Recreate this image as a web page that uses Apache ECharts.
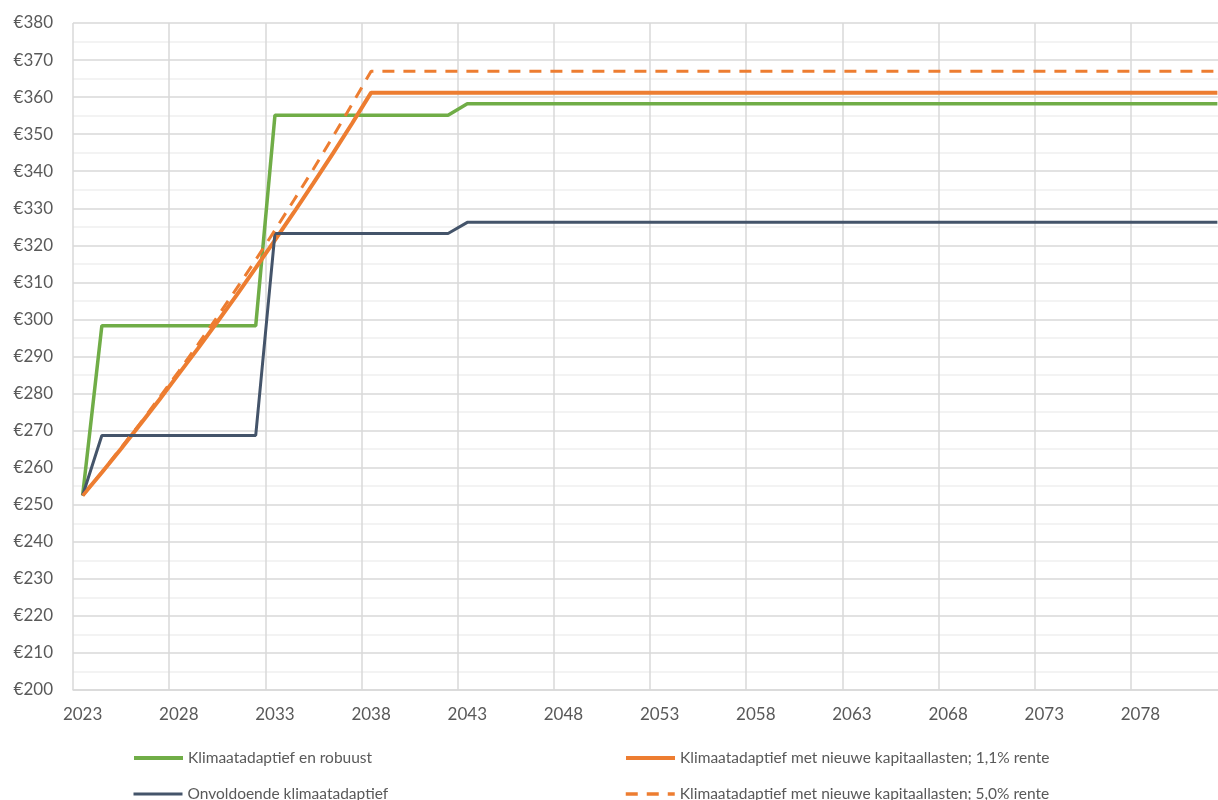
<!DOCTYPE html>
<html>

<head>
    <meta charset="utf-8" />
    <title>Klimaatadaptief</title>
    <script src="https://cdn.jsdelivr.net/npm/echarts@6/dist/echarts.min.js"></script>
    <style>
        body { margin: 0; background: #fff; overflow: hidden; }
        /* the plot runs slightly past the right edge of the window, like the original */
        #main { width: 1227px; height: 800px; }
    </style>
</head>

<body>
    <div id="main"></div>
    <script type="text/javascript">
        // years 2023 .. 2082
        var years = [];
        for (var y = 2023; y <= 2082; y++) years.push(String(y));

        var names = [
            'Klimaatadaptief en robuust',
            'Klimaatadaptief met nieuwe kapitaallasten; 1,1% rente',
            'Onvoldoende klimaatadaptief',
            'Klimaatadaptief met nieuwe kapitaallasten; 5,0% rente'
        ];

        // values (2023..2043), after that the lines stay flat
        var robuust = [252.5, 298.3, 298.3, 298.3, 298.3, 298.3, 298.3, 298.3, 298.3, 298.3,
            355.1, 355.1, 355.1, 355.1, 355.1, 355.1, 355.1, 355.1, 355.1, 355.1, 358.2];
        var onvoldoende = [252.5, 268.7, 268.7, 268.7, 268.7, 268.7, 268.7, 268.7, 268.7, 268.7,
            323.2, 323.2, 323.2, 323.2, 323.2, 323.2, 323.2, 323.2, 323.2, 323.2, 326.2];
        var rente11 = [252.5, 258.7, 265.1, 271.7, 278.4, 285.3, 292.2, 299.3, 306.5, 313.9,
            321.4, 329.0, 336.8, 344.7, 352.8, 361.2];
        var rente50 = [252.5, 258.8, 265.4, 272.0, 279.0, 286.0, 293.3, 300.7, 308.3, 316.1,
            324.1, 332.3, 340.6, 349.2, 358.0, 367.0];

        function fill(arr) {
            var out = arr.slice();
            while (out.length < years.length) out.push(arr[arr.length - 1]);
            return out;
        }

        var txt = '#595959';
        var font = 'Lato';

        // one legend per entry, two columns, two rows
        var legendPos = [[132, 750], [624, 750], [132, 786], [624, 786]];
        var legendWidth = [4, 4, 3, 3.5];
        var legends = names.map(function (n, i) {
            return {
                left: legendPos[i][0], top: legendPos[i][1],
                padding: 0,
                itemWidth: 49, itemHeight: 16,
                itemStyle: { opacity: 0 },
                lineStyle: { width: legendWidth[i] },
                textStyle: { color: txt, fontSize: 15.5, fontFamily: font },
                data: [n]
            };
        });

        var myChart = echarts.init(document.getElementById('main'));
        myChart.setOption({
            animation: false,
            textStyle: { fontFamily: font },
            grid: { left: 73, right: 0, top: 23, bottom: 110 },
            legend: legends,
            xAxis: {
                type: 'category',
                data: years,
                boundaryGap: true,
                axisLine: { lineStyle: { color: '#d9d9d9', width: 1.5 } },
                axisTick: { interval: 4, length: 6, lineStyle: { color: '#d9d9d9', width: 1.5 } },
                axisLabel: { interval: 4, color: txt, fontSize: 17, margin: 16 },
                splitLine: { show: true, interval: 4, lineStyle: { color: '#d9d9d9', width: 1.5 } }
            },
            yAxis: {
                type: 'value',
                min: 200, max: 380, interval: 10,
                axisLine: { show: false },
                axisTick: { show: false },
                axisLabel: { color: txt, fontSize: 17, margin: 20, formatter: '€{value}' },
                splitLine: { lineStyle: { color: '#d9d9d9', width: 1.5 } },
                minorTick: { show: false, splitNumber: 2 },
                minorSplitLine: { show: true, lineStyle: { color: '#f0f0f0', width: 1.5 } }
            },
            series: [
                {
                    name: names[0], type: 'line', data: fill(robuust), symbol: 'none',
                    itemStyle: { color: '#70ad47' }, lineStyle: { color: '#70ad47', width: 3.5 }
                },
                {
                    name: names[1], type: 'line', data: fill(rente11), symbol: 'none',
                    itemStyle: { color: '#ed7d31' }, lineStyle: { color: '#ed7d31', width: 4 }
                },
                {
                    name: names[2], type: 'line', data: fill(onvoldoende), symbol: 'none',
                    itemStyle: { color: '#44546a' }, lineStyle: { color: '#44546a', width: 3 }
                },
                {
                    name: names[3], type: 'line', data: fill(rente50), symbol: 'none',
                    itemStyle: { color: '#ed7d31' }, lineStyle: { color: '#ed7d31', width: 3, type: [12, 9] }
                }
            ]
        });
    </script>
</body>

</html>
